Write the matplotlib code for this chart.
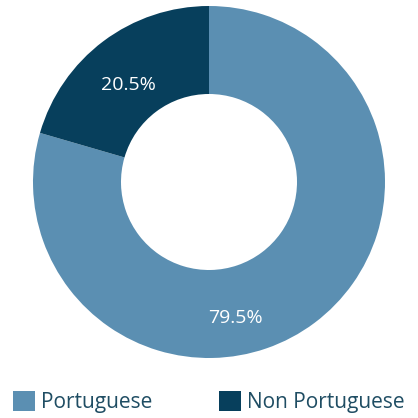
import matplotlib
matplotlib.use("Agg")
import matplotlib.pyplot as plt
from matplotlib.patches import Patch

categories = ["Portuguese", "Non Portuguese"]
values = [79.5, 20.5]
labels = ["79.5%", "20.5%"]
colors = ["#5b8fb2", "#073f5c"]
text_color = "#1f4d63"

plt.rcParams['font.family'] = ['Open Sans', 'DejaVu Sans']

fig = plt.figure(figsize=(4.18, 4.18), dpi=100)
ax = fig.add_axes([0, 0, 1, 1])

ax.pie(values, colors=colors, radius=176, startangle=90, counterclock=False,
       wedgeprops=dict(width=88, edgecolor='none'), center=(0, 0), frame=True)
ax.set_xlim(-209, 209)
ax.set_ylim(-236, 182)
ax.set_aspect('equal')
ax.axis('off')

label_pos = [(26, -136), (-81, 97)]
for (x, y), t in zip(label_pos, labels):
    ax.text(x, y, t, color='white', fontsize=14, ha='center', va='center')

handles = [Patch(facecolor=c, edgecolor='none') for c in colors]
leg = fig.legend(handles, categories, loc='center left', bbox_to_anchor=(0.031, 0.038),
                 ncol=2, frameon=False, fontsize=15, handlelength=1.05, handleheight=1.05,
                 handletextpad=0.3, columnspacing=3.2, borderaxespad=0, borderpad=0)
for t in leg.get_texts():
    t.set_color(text_color)

fig.savefig("out.png", dpi=100)
